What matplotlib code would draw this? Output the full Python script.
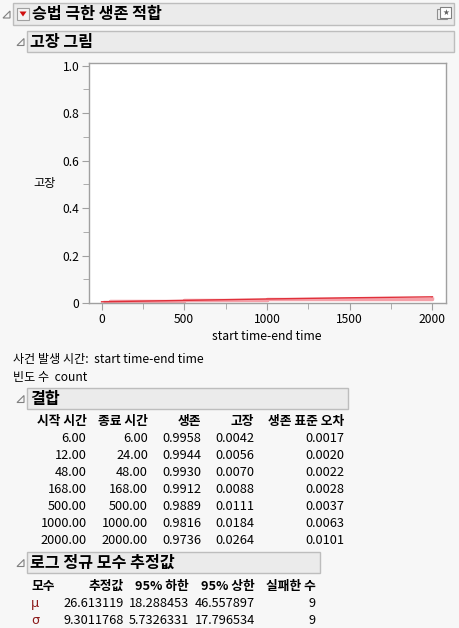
import matplotlib
matplotlib.use("Agg")
import matplotlib.pyplot as plt
from matplotlib.patches import Rectangle, Polygon
from matplotlib.ticker import MultipleLocator, FixedLocator

plt.rcParams['font.family'] = ['Noto Sans CJK KR', 'DejaVu Sans']

# --- data ---
fit_time = [0, 500, 1000, 1500, 2000]
fit_fail = [0.005, 0.011, 0.017, 0.022, 0.026]

start_time = [6.00, 12.00, 48.00, 168.00, 500.00, 1000.00, 2000.00]
end_time = [6.00, 24.00, 48.00, 168.00, 500.00, 1000.00, 2000.00]
survival = [0.9958, 0.9944, 0.9930, 0.9912, 0.9889, 0.9816, 0.9736]
failure = [0.0042, 0.0056, 0.0070, 0.0088, 0.0111, 0.0184, 0.0264]
surv_se = [0.0017, 0.0020, 0.0022, 0.0028, 0.0037, 0.0063, 0.0101]

params = ['μ', 'σ']
estimate = ['26.613119', '9.3011768']
lower95 = ['18.288453', '5.7326331']
upper95 = ['46.557897', '17.796534']
n_fail = [9, 9]

W, H = 460, 628
FS = 9.2
fig = plt.figure(figsize=(W / 100, H / 100), dpi=100)
fig.patch.set_facecolor('#f7f7f7')

# pixel-coordinate canvas for the report layout
bg = fig.add_axes([0, 0, 1, 1])
bg.set_xlim(0, W)
bg.set_ylim(H, 0)
bg.axis('off')


def header(x0, y0, x1, y1, text, text_x=None, size=11.6):
    bg.add_patch(Rectangle((x0, y0), x1 - x0, y1 - y0, facecolor='#ebebeb',
                           edgecolor='#bdbdbd', lw=1))
    if text_x is None:
        text_x = x0 + 3
    bg.text(text_x, (y0 + y1) / 2 + 0.5, text, fontsize=size, fontweight='bold',
            va='center', ha='left', color='black')
    # disclosure triangle
    tx = x0 - 10
    ty = (y0 + y1) / 2 + 4
    bg.add_patch(Polygon([[tx, ty], [tx + 7, ty], [tx + 7, ty - 7]], closed=True,
                         facecolor='none', edgecolor='#808080', lw=0.8))


header(13, 3, 454, 25, '승법 극한 생존 적합', text_x=32)
# red menu icon
bg.add_patch(Rectangle((17, 8), 12, 12, facecolor='#f4f4f4', edgecolor='#a0a0a0', lw=0.8))
bg.add_patch(Polygon([[19.5, 11.5], [26.5, 11.5], [23, 16.5]], closed=True,
                     facecolor='#d01010', edgecolor='none'))
# small icon at the right
bg.add_patch(Rectangle((437, 9), 10, 10, facecolor='#f0f0f0', edgecolor='#909090', lw=0.8))
bg.add_patch(Rectangle((440, 6.5), 11, 11, facecolor='white', edgecolor='#808080', lw=0.8))
bg.text(445.5, 12, '★', fontsize=5.5, ha='center', va='center', color='#606060',
        family=['DejaVu Sans'])

header(27, 31, 454, 52, '고장 그림')

# --- failure plot ---
ax_l, ax_r, ax_t, ax_b = 89, 445.7, 63.3, 303
ax = fig.add_axes([ax_l / W, 1 - ax_b / H, (ax_r - ax_l) / W, (ax_b - ax_t) / H])
ax.set_facecolor('white')
ax.set_xlim(-76, 2080)
ax.set_ylim(0, 1.01)

ax.step(end_time, failure, where='post', color='#f4a0a8', lw=2.5, solid_capstyle='butt')
ax.plot(fit_time, fit_fail, color='#e0303a', lw=1.0)

ax.xaxis.set_major_locator(FixedLocator([0, 500, 1000, 1500, 2000]))
ax.xaxis.set_minor_locator(FixedLocator([250, 750, 1250, 1750]))
ax.yaxis.set_major_locator(FixedLocator([0, 0.2, 0.4, 0.6, 0.8, 1.0]))
ax.yaxis.set_minor_locator(MultipleLocator(0.1))
ax.set_yticklabels(['0', '0.2', '0.4', '0.6', '0.8', '1.0'])
ax.set_xticklabels(['0', '500', '1000', '1500', '2000'])
for s in ax.spines.values():
    s.set_color('#a0a0a0')
    s.set_linewidth(1)
ax.tick_params(which='both', direction='out', color='#a0a0a0', labelsize=8.7,
               labelcolor='black', pad=2)
ax.tick_params(which='major', length=5)
ax.tick_params(which='minor', length=4)

bg.text(267, 336, 'start time-end time', fontsize=8.7, ha='center', va='center')
bg.text(45, 184, '고장', fontsize=8.7, ha='center', va='center')

bg.text(13, 360, '사건 발생 시간:  start time-end time', fontsize=8.7, ha='left', va='center')
bg.text(13, 377, '빈도 수  count', fontsize=8.7, ha='left', va='center')

# --- combined table ---
header(27, 388, 348, 409, '결합')
cols_x = [86.5, 148, 201.5, 254.5, 344]
col_names = ['시작 시간', '종료 시간', '생존', '고장', '생존 표준 오차']
for x, name in zip(cols_x, col_names):
    bg.text(x, 421.5, name, fontsize=FS, fontweight='bold', ha='right', va='center')
row_y0, row_dy = 438.5, 16.95
for i in range(len(start_time)):
    y = row_y0 + i * row_dy
    vals = ['%.2f' % start_time[i], '%.2f' % end_time[i], '%.4f' % survival[i],
            '%.4f' % failure[i], '%.4f' % surv_se[i]]
    for x, v in zip(cols_x, vals):
        bg.text(x, y, v, fontsize=FS, ha='right', va='center')

# --- parameter estimates ---
header(27, 552, 320, 573, '로그 정규 모수 추정값')
bg.text(31, 586.5, '모수', fontsize=FS, fontweight='bold', ha='left', va='center')
pcols_x = [123.5, 189, 255, 316]
for x, name in zip(pcols_x, ['추정값', '95% 하한', '95% 상한', '실패한 수']):
    bg.text(x, 586.5, name, fontsize=FS, fontweight='bold', ha='right', va='center')
for i in range(len(params)):
    y = 603.3 + i * 16.7
    bg.text(31, y, params[i], fontsize=FS, ha='left', va='center', color='#8b1a1a',
            family=['DejaVu Sans'])
    for x, v in zip(pcols_x, [estimate[i], lower95[i], upper95[i], str(n_fail[i])]):
        bg.text(x, y, v, fontsize=FS, ha='right', va='center')

fig.savefig('out.png', dpi=100, facecolor=fig.get_facecolor())
